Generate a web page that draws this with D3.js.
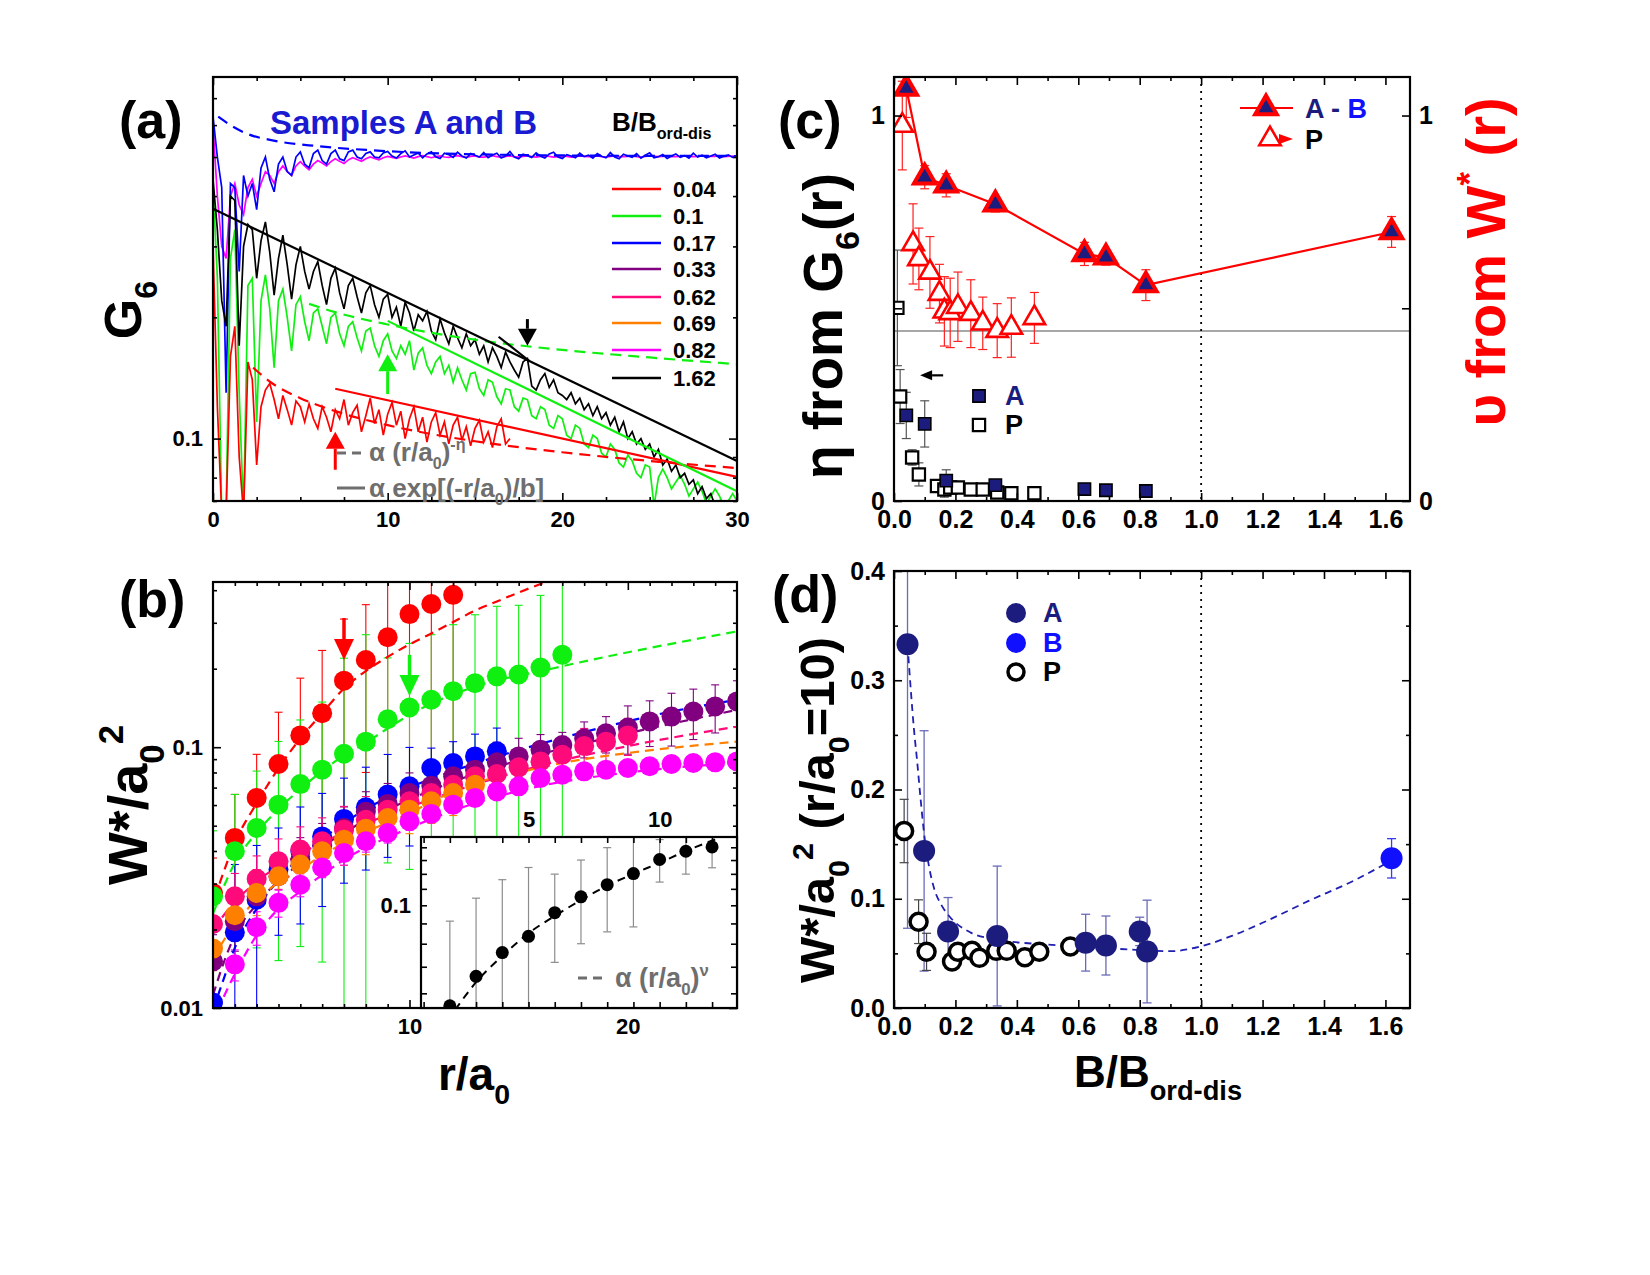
<!DOCTYPE html>
<html>
<head>
<meta charset="utf-8">
<script src="https://cdn.jsdelivr.net/npm/d3@7/dist/d3.min.js"></script>
<style>
  body { margin: 0; background: #fff; }
  svg text { font-family: "Liberation Sans", Arial, sans-serif; font-weight: bold; }
</style>
</head>
<body>
<svg id="fig" width="1650" height="1275"></svg>
<script>
// ---------- panel (a): G6(r), sampled every 0.25 a0 ----------
const G6_DR = 0.25
const G6_004 = [0.3, 0.12, 0.065, 0.065, 0.16, 0.19, 0.09, 0.065, 0.155, 0.14,
  0.086, 0.12, 0.132, 0.137, 0.125, 0.112, 0.128, 0.118, 0.108, 0.124,
  0.12, 0.11, 0.122, 0.112, 0.106, 0.12, 0.113, 0.104, 0.118, 0.112,
  0.125, 0.108, 0.116, 0.121, 0.104, 0.114, 0.126, 0.109, 0.118, 0.102,
  0.115, 0.123, 0.108, 0.117, 0.1, 0.112, 0.12, 0.104, 0.113, 0.098,
  0.11, 0.116, 0.102, 0.11, 0.097, 0.108, 0.113, 0.099, 0.107, 0.096,
  0.106, 0.111, 0.098, 0.104, 0.095, 0.107, 0.112, 0.097, 0.1]
const G6_01 = [0.43, 0.25, 0.065, 0.065, 0.28, 0.33, 0.13, 0.065, 0.24, 0.25,
  0.11, 0.22, 0.255, 0.21, 0.15, 0.22, 0.235, 0.2, 0.165, 0.215,
  0.225, 0.195, 0.175, 0.205, 0.21, 0.19, 0.172, 0.2, 0.205, 0.182,
  0.17, 0.19, 0.195, 0.178, 0.165, 0.185, 0.188, 0.17, 0.16, 0.175,
  0.182, 0.165, 0.158, 0.17, 0.162, 0.175, 0.148, 0.163, 0.168, 0.152,
  0.145, 0.155, 0.16, 0.145, 0.152, 0.138, 0.15, 0.14, 0.132, 0.145,
  0.146, 0.133, 0.128, 0.14, 0.138, 0.127, 0.122, 0.133, 0.132, 0.12,
  0.117, 0.126, 0.125, 0.114, 0.112, 0.12, 0.118, 0.108, 0.106, 0.114,
  0.112, 0.102, 0.1, 0.108, 0.106, 0.097, 0.095, 0.102, 0.1, 0.092,
  0.09, 0.097, 0.094, 0.087, 0.085, 0.091, 0.088, 0.082, 0.08, 0.086,
  0.085, 0.068, 0.08, 0.084, 0.08, 0.075, 0.078, 0.081, 0.077, 0.072,
  0.075, 0.078, 0.074, 0.069, 0.072, 0.075, 0.072, 0.068, 0.07, 0.073, 0.07]
const G6_017 = [0.63, 0.5, 0.42, 0.13, 0.43, 0.42, 0.26, 0.45, 0.4, 0.43,
  0.37, 0.47, 0.5, 0.44, 0.41, 0.48, 0.5, 0.46, 0.45, 0.5,
  0.515, 0.48, 0.47, 0.51, 0.52, 0.49, 0.48, 0.51, 0.52, 0.495,
  0.49, 0.515, 0.52, 0.5, 0.495, 0.51, 0.515, 0.5,
  0.498, 0.512, 0.516, 0.503, 0.497, 0.51, 0.518, 0.5, 0.506, 0.512,
  0.498, 0.509, 0.515, 0.501, 0.496, 0.511, 0.507, 0.499, 0.514, 0.503,
  0.497, 0.51, 0.505, 0.5, 0.513, 0.498, 0.506, 0.511, 0.497, 0.503,
  0.516, 0.5, 0.495, 0.508, 0.504, 0.499, 0.512, 0.502, 0.497, 0.509,
  0.514, 0.5, 0.496, 0.507, 0.503, 0.498, 0.511, 0.501, 0.505, 0.497,
  0.51, 0.502, 0.498, 0.513, 0.5, 0.495, 0.508, 0.503, 0.499, 0.51,
  0.497, 0.505, 0.512, 0.498, 0.501, 0.507, 0.496, 0.503, 0.509, 0.499,
  0.504, 0.497, 0.511, 0.5, 0.505, 0.498, 0.503, 0.508, 0.497, 0.502,
  0.506, 0.499, 0.503]
const G6_082 = [0.6, 0.4, 0.3, 0.28, 0.4, 0.43, 0.38, 0.36, 0.42, 0.44,
  0.4, 0.43, 0.46, 0.45, 0.43, 0.46, 0.475, 0.46, 0.45, 0.475,
  0.487, 0.475, 0.465, 0.48, 0.49, 0.483, 0.475, 0.487, 0.495, 0.488,
  0.482, 0.492, 0.498, 0.493, 0.488, 0.495, 0.5, 0.496, 0.492, 0.498,
  0.502, 0.499, 0.496, 0.5, 0.503, 0.5, 0.497, 0.501, 0.504, 0.501,
  0.498, 0.501, 0.503, 0.5, 0.499, 0.502, 0.504, 0.501, 0.499, 0.502,
  0.503, 0.5, 0.5, 0.502, 0.504, 0.501, 0.5, 0.502, 0.503, 0.501,
  0.5, 0.502, 0.503, 0.501, 0.5, 0.502, 0.503, 0.502, 0.5, 0.501,
  0.503, 0.502, 0.5, 0.501, 0.503, 0.502, 0.501, 0.502, 0.503, 0.501,
  0.5, 0.502, 0.503, 0.501, 0.501, 0.502, 0.503, 0.501, 0.5, 0.502,
  0.503, 0.502, 0.501, 0.502, 0.503, 0.501, 0.501, 0.502, 0.503, 0.502,
  0.501, 0.502, 0.503, 0.501, 0.502, 0.502, 0.503, 0.501, 0.502, 0.503, 0.502]
const G6_162 = [0.44, 0.33, 0.22, 0.19, 0.4, 0.39, 0.17, 0.3, 0.34, 0.33,
  0.25, 0.31, 0.345, 0.29, 0.227, 0.28, 0.32, 0.27, 0.222, 0.27,
  0.3, 0.26, 0.235, 0.26, 0.275, 0.24, 0.215, 0.25, 0.265, 0.23,
  0.21, 0.24, 0.25, 0.225, 0.205, 0.23, 0.24, 0.215, 0.2, 0.222,
  0.228, 0.2, 0.212, 0.19, 0.218, 0.205, 0.185, 0.203, 0.196, 0.207,
  0.185, 0.176, 0.198, 0.183, 0.172, 0.19, 0.178, 0.168, 0.182, 0.17,
  0.176, 0.162, 0.17, 0.155, 0.168, 0.16, 0.15, 0.164, 0.155, 0.148,
  0.142, 0.155, 0.158, 0.135, 0.132, 0.14, 0.145, 0.134, 0.14, 0.13,
  0.128, 0.125, 0.13, 0.122, 0.126, 0.118, 0.122, 0.114, 0.12, 0.112,
  0.116, 0.108, 0.113, 0.104, 0.11, 0.1, 0.104, 0.097, 0.1, 0.094,
  0.097, 0.09, 0.094, 0.086, 0.089, 0.083, 0.086, 0.08, 0.082, 0.077,
  0.079, 0.073, 0.076, 0.071, 0.073, 0.068, 0.07, 0.066, 0.068, 0.064, 0.066]

// fits: [r, G6]
const FIT_POW_RED = [[2.3, 0.15], [3.3, 0.138], [5, 0.126], [7, 0.117], [10, 0.108], [15, 0.0985], [20, 0.0925], [25, 0.088], [30, 0.0845]]
const FIT_POW_GREEN = [[5.5, 0.216], [7, 0.206], [10, 0.192], [15, 0.176], [20, 0.166], [25, 0.159], [30, 0.153]]
const FIT_POW_BLUE = [[0.3, 0.63], [1, 0.6], [2, 0.57], [3.4, 0.55], [6, 0.532], [9, 0.52], [12, 0.512], [16, 0.507], [22, 0.504], [30, 0.503]]
const FIT_EXP_RED = [[7, 0.133], [30, 0.0803]]
const FIT_EXP_GREEN = [[10, 0.196], [30, 0.074]]
const FIT_EXP_BLACK = [[0, 0.372], [30, 0.088]]
const FIT_CROSS_BLACK = [[16.35, 0.179], [18.1, 0.156]]
const ARROWS_A = [[7, 0.0837, 0.104, 0], [10, 0.129, 0.162, 1], [18, 0.198, 0.17, 7]]

const B_LABELS = ["0.04", "0.1", "0.17", "0.33", "0.62", "0.69", "0.82", "1.62"]
const B_COLORS = ["#ff0000", "#10f010", "#0000ff", "#800080", "#ff0a7a", "#ff8000", "#ff00ff", "#000000"]

// ---------- panel (b): W*/a0^2 vs r/a0 ----------
const W_R = [1, 2, 3, 4, 5, 6, 7, 8, 9, 10, 11, 12, 13, 14, 15, 16, 17, 18, 19, 20, 21, 22, 23, 24, 25]
const W_RED = [0.0276, 0.0449, 0.0639, 0.0862, 0.111, 0.135, 0.18, 0.216, 0.264, 0.324, 0.354, 0.384]
const W_RED_ERR = [0.01, 0.021, 0.03, 0.05, 0.073, 0.1, 0.13, 0.136, 0.2, 0.25, 0.3, 0.3]
const W_GREEN = [0.0268, 0.0399, 0.049, 0.0602, 0.0722, 0.082, 0.0944, 0.105, 0.128, 0.142, 0.152, 0.164, 0.176, 0.187, 0.19, 0.202, 0.226]
const W_GREEN_ERR = [0.021, 0.026, 0.032, 0.045, 0.055, 0.067, 0.125, 0.165, 0.092, 0.108, 0.118, 0.131, 0.146, 0.16, 0.16, 0.18, 0.25]
const W_BLUE = [0.0105, 0.0195, 0.026, 0.034, 0.04, 0.0455, 0.0531, 0.0588, 0.0658, 0.0708, 0.0832, 0.087, 0.0922, 0.0964]
const W_BLUE_ERR = [0.005, 0.016, 0.016, 0.015, 0.019, 0.021, 0.023, 0.025, 0.028, 0.029, 0.016, 0.018, 0.02, 0.022]
const W_PURPLE = [0.0151, 0.0215, 0.0268, 0.032, 0.037, 0.042, 0.049, 0.0565, 0.0606, 0.0667, 0.0712, 0.0773, 0.082, 0.0875, 0.0922, 0.0978, 0.102, 0.108, 0.113, 0.119, 0.1256, 0.131, 0.137, 0.1434, 0.1498]
const W_PURPLE_ERR = [0.004, 0.005, 0.006, 0.007, 0.008, 0.009, 0.01, 0.011, 0.012, 0.013, 0.014, 0.015, 0.016, 0.017, 0.016, 0.014, 0.012, 0.017, 0.018, 0.025, 0.025, 0.03, 0.03, 0.03, 0.03]
const W_PINK = [0.021, 0.0268, 0.0313, 0.0365, 0.0405, 0.0436, 0.0483, 0.0527, 0.0576, 0.062, 0.0667, 0.0718, 0.0773, 0.0789, 0.0837, 0.0882, 0.0936, 0.101, 0.105, 0.111]
const W_PINK_ERR = [0.005, 0.006, 0.007, 0.008, 0.009, 0.01, 0.011, 0.012, 0.012, 0.013, 0.013, 0.014, 0.014, 0.015, 0.015, 0.016, 0.016, 0.017, 0.017, 0.018]
const W_ORANGE = [0.0169, 0.0227, 0.0276, 0.032, 0.0355, 0.0399, 0.0442, 0.0487, 0.0535, 0.0576, 0.062, 0.0667, 0.0718]
const W_ORANGE_ERR = [0.003, 0.004, 0.005, 0.006, 0.007, 0.008, 0.009, 0.01, 0.01, 0.011, 0.011, 0.012, 0.012]
const W_MAGENTA = [0.0147, 0.0204, 0.0253, 0.0297, 0.0346, 0.0393, 0.0436, 0.0469, 0.052, 0.0555, 0.0602, 0.0639, 0.0677, 0.0708, 0.0762, 0.0784, 0.0808, 0.082, 0.0832, 0.0845, 0.0862, 0.087, 0.0875, 0.0882]
const W_MAGENTA_ERR = [0.002, 0.003, 0.003, 0.003, 0.003, 0.004, 0.004, 0.004, 0.004, 0.004, 0.004, 0.004, 0.004, 0.004, 0.004, 0.004, 0.004, 0.004, 0.004, 0.004, 0.004, 0.004, 0.004, 0.004]

const FIT_W_RED = [[1.3, 0.03], [2, 0.043], [3, 0.061], [4, 0.083], [5, 0.108], [6, 0.135], [7, 0.168], [8, 0.196], [9, 0.222], [10, 0.248], [11, 0.273], [12, 0.302], [13, 0.334], [14, 0.362], [15, 0.392], [16.5, 0.438]]
const FIT_W_GREEN = [[1, 0.023], [2, 0.036], [3, 0.047], [4, 0.058], [5, 0.069], [6, 0.081], [7, 0.093], [8, 0.104], [9, 0.118], [10, 0.133], [12.75, 0.168], [16.5, 0.2], [25, 0.278]]
const FIT_W_BLUE = [[1, 0.0098], [1.5, 0.013], [2, 0.017], [3, 0.024], [4, 0.031], [5, 0.038], [6, 0.0445], [7, 0.051], [8, 0.058], [9, 0.064], [10, 0.07], [12, 0.081], [14, 0.092], [16, 0.103], [19, 0.12], [22, 0.137], [25, 0.152]]
const FIT_W_PURPLE = [[1, 0.0112], [1.5, 0.015], [2, 0.019], [3, 0.025], [5, 0.036], [7, 0.047], [10, 0.063], [13, 0.079], [16, 0.094], [20, 0.113], [25, 0.139]]
const FIT_W_PINK = [[1, 0.02], [2, 0.0255], [3, 0.0305], [5, 0.039], [7, 0.047], [10, 0.059], [13, 0.072], [16, 0.085], [20, 0.101], [25, 0.12]]
const FIT_W_ORANGE = [[1, 0.0155], [2, 0.021], [3, 0.026], [5, 0.034], [7, 0.043], [10, 0.056], [12.75, 0.0718], [15, 0.08], [17.3, 0.088], [20, 0.095], [25, 0.105]]
const FIT_W_MAGENTA = [[1.2, 0.0098], [2, 0.0135], [3, 0.019], [4, 0.024], [5, 0.028], [7, 0.037], [10, 0.049], [13, 0.061], [16, 0.071], [20, 0.08], [25, 0.087]]
const ARROWS_B = [[7, 0.313, 0.216, 0], [10, 0.226, 0.157, 1]]

// inset of (b): B/Bord-dis = 1.62
const IN_R = [2, 3, 4, 5, 6, 7, 8, 9, 10, 11, 12]
const IN_W = [0.0558, 0.0662, 0.076, 0.0835, 0.0958, 0.105, 0.1127, 0.1202, 0.1304, 0.1368, 0.1403]
const IN_ERR = [0.0354, 0.038, 0.04, 0.041, 0.024, 0.025, 0.027, 0.032, 0.016, 0.017, 0.016]
const IN_FIT = [[2.2, 0.0545], [3, 0.064], [4, 0.0745], [5, 0.085], [6, 0.094], [7, 0.103], [8, 0.112], [9, 0.12], [10, 0.128], [11, 0.137], [12.3, 0.148]]

// ---------- panel (c): eta and nu vs B/Bord-dis ----------
const C_B_AB = [0.04, 0.1, 0.17, 0.33, 0.62, 0.69, 0.82, 1.62]
const C_NU_AB = [1.07, 0.84, 0.819, 0.77, 0.641, 0.632, 0.56, 0.698]
const C_NU_AB_ERR = [0.075, 0.03, 0.03, 0.02, 0.03, 0.02, 0.04, 0.04]
const C_B_P = [0.027, 0.062, 0.081, 0.117, 0.148, 0.164, 0.183, 0.208, 0.25, 0.289, 0.336, 0.382, 0.457]
const C_NU_P = [0.974, 0.667, 0.628, 0.593, 0.538, 0.492, 0.488, 0.504, 0.486, 0.461, 0.442, 0.45, 0.475]
const C_NU_P_ERR = [0.115, 0.104, 0.08, 0.093, 0.076, 0.09, 0.09, 0.09, 0.088, 0.068, 0.07, 0.077, 0.066]
const C_B_A = [0.04, 0.1, 0.17, 0.33, 0.62, 0.69, 0.82]
const C_ETA_A = [0.222, 0.2, 0.053, 0.041, 0.031, 0.028, 0.026]
const C_ETA_A_ERR = [0.06, 0.06, 0.028, 0.01, 0.008, 0.008, 0.008]
const C_B_PSQ = [0.011, 0.02, 0.059, 0.081, 0.14, 0.164, 0.183, 0.208, 0.25, 0.289, 0.336, 0.382, 0.457]
const C_ETA_P = [0.501, 0.271, 0.113, 0.069, 0.039, 0.03, 0.035, 0.035, 0.03, 0.03, 0.022, 0.02, 0.02]
const C_ETA_P_ERR = [0.15, 0.07, 0.02, 0.03, 0.01, 0.02, 0.015, 0.01, 0.01, 0.01, 0.01, 0.01, 0.01]
const C_HLINE = 0.441

// ---------- panel (d): W*/a0^2 at r/a0 = 10 ----------
const D_B_A = [0.044, 0.098, 0.176, 0.336, 0.624, 0.69, 0.8, 0.824]
const D_W_A = [0.333, 0.1438, 0.0701, 0.0659, 0.0598, 0.0572, 0.0701, 0.0517]
const D_W_A_ERR = [0.26, 0.11, 0.031, 0.064, 0.026, 0.027, 0.013, 0.047]
const D_B_B = [1.62]
const D_W_B = [0.137]
const D_W_B_ERR = [0.018]
const D_B_P = [0.033, 0.08, 0.106, 0.189, 0.208, 0.254, 0.278, 0.333, 0.367, 0.426, 0.473, 0.574]
const D_W_P = [0.162, 0.079, 0.0514, 0.0426, 0.0514, 0.0523, 0.0459, 0.0523, 0.0523, 0.0465, 0.0514, 0.0562]
const D_W_P_ERR = [0.029, 0.02, 0.017, 0.005, 0.005, 0.005, 0.005, 0.008, 0.005, 0.005, 0.005, 0.005]
const D_FIT = [[0.044, 0.333], [0.055, 0.29], [0.065, 0.255], [0.075, 0.227], [0.087, 0.19], [0.1, 0.155], [0.115, 0.128], [0.13, 0.11], [0.155, 0.094], [0.18, 0.084], [0.25, 0.069], [0.33, 0.063], [0.5, 0.058], [0.65, 0.0556], [0.8, 0.053], [0.9, 0.052], [1.0, 0.0565], [1.1, 0.066], [1.2, 0.078], [1.35, 0.098], [1.5, 0.117], [1.6, 0.132]]

const BB_MAJOR = [0, 0.2, 0.4, 0.6, 0.8, 1.0, 1.2, 1.4, 1.6]
const BB_MINOR = [0.1, 0.3, 0.5, 0.7, 0.9, 1.1, 1.3, 1.5]

// ---------- layout ----------
const PA = { x0: 213, x1: 737, y0: 77, y1: 501 }
const PB = { x0: 213, x1: 737, y0: 582, y1: 1008 }
const PI = { x0: 421, x1: 737, y0: 837, y1: 1008 }
const PC = { x0: 894, x1: 1410, y0: 77, y1: 501 }
const PD = { x0: 894, x1: 1410, y0: 571, y1: 1008 }
const NAVY = "#1c1c7e"
const BRIGHT_BLUE = "#1010ff"
const GRAY_TXT = "#6e6e6e"
const NARROW = '"Liberation Sans Narrow", "Liberation Sans", Arial, sans-serif'
const REGULAR = '"Liberation Sans", Arial, sans-serif'

const svg = d3.select("#fig")
const defs = svg.append("defs")

function clipRect(id, b) {
  defs.append("clipPath").attr("id", id)
      .append("rect")
      .attr("x", b.x0).attr("y", b.y0)
      .attr("width", b.x1 - b.x0).attr("height", b.y1 - b.y0)
}

function axisSide(g, axisFn, scale, vals, size, tr, fmt, o) {
  const ax = axisFn(scale).tickValues(vals).tickSizeInner(-size).tickSizeOuter(0)
                          .tickPadding(o.pad || 8).tickFormat(fmt)
  const a = g.append("g").attr("transform", tr).call(ax)
  a.select(".domain").remove()
  a.selectAll("line").attr("stroke", "#000").attr("stroke-width", 1.6)
  a.selectAll("text")
   .attr("fill", "#000")
   .attr("font-size", o.fs)
   .attr("font-family", o.ff)
   .attr("font-weight", "bold")
  return a
}

function drawFrame(g, b, x, y, o) {
  const none = () => ""
  const sides = [
    [d3.axisBottom, x, `translate(0,${b.y1})`, o.xMaj, o.xMin, o.xFmt || none],
    [d3.axisTop, x, `translate(0,${b.y0})`, o.xMaj, o.xMin, o.xTopFmt || none],
    [d3.axisLeft, y, `translate(${b.x0},0)`, o.yMaj, o.yMin, o.yFmt || none],
    [d3.axisRight, y, `translate(${b.x1},0)`, o.yMaj, o.yMin, o.yRFmt || none],
  ]
  sides.forEach(([fn, s, tr, maj, min, fmt]) => {
    if (min && min.length) axisSide(g, fn, s, min, o.minLen || 4, tr, none, o)
    axisSide(g, fn, s, maj, o.majLen || 8, tr, fmt, o)
  })
  g.append("rect")
   .attr("x", b.x0).attr("y", b.y0)
   .attr("width", b.x1 - b.x0).attr("height", b.y1 - b.y0)
   .attr("fill", "none").attr("stroke", "#000").attr("stroke-width", 2.2)
}

// text with sub/superscripts: parts = [[text, "n"|"sub"|"sup"]]
function rich(sel, parts, fs) {
  let shift = 0
  parts.forEach(([t, k]) => {
    const small = fs * 0.62
    const target = k === "sub" ? fs * 0.3 : k === "sup" ? -fs * 0.42 : 0
    sel.append("tspan")
       .attr("dy", target - shift)
       .attr("font-size", k === "n" ? fs : small)
       .text(t)
    shift = target
  })
  return sel
}

function label(g, x, y, parts, fs, opt = {}) {
  const t = g.append("text")
             .attr("text-anchor", opt.anchor || "start")
             .attr("fill", opt.color || "#000")
             .attr("font-size", fs)
  if (opt.rotate) t.attr("transform", `translate(${x},${y}) rotate(${opt.rotate})`)
  else t.attr("x", x).attr("y", y)
  return rich(t, parts, fs)
}

function arrow(g, x1, y1, x2, y2, color, headLen, headW, shaftW) {
  const len = Math.hypot(x2 - x1, y2 - y1)
  const ux = (x2 - x1) / len, uy = (y2 - y1) / len
  const bx = x2 - ux * headLen, by = y2 - uy * headLen
  g.append("line")
   .attr("x1", x1).attr("y1", y1).attr("x2", bx).attr("y2", by)
   .attr("stroke", color).attr("stroke-width", shaftW)
  g.append("path")
   .attr("d", `M${x2},${y2}L${bx - uy * headW / 2},${by + ux * headW / 2}L${bx + uy * headW / 2},${by - ux * headW / 2}Z`)
   .attr("fill", color)
}

function errorBars(g, pts, x, y, color, cap, floorPx, width) {
  const grp = g.append("g").attr("stroke", color).attr("stroke-width", width || 1.2)
  grp.selectAll("g").data(pts).join("g").each(function (d) {
    const s = d3.select(this)
    const px = x(d.x)
    const top = y(d.v + d.e)
    const lo = d.v - d.e
    const bot = lo > 0 || !floorPx ? y(lo) : floorPx
    s.append("line").attr("x1", px).attr("x2", px).attr("y1", top).attr("y2", bot)
    s.append("line").attr("x1", px - cap).attr("x2", px + cap).attr("y1", top).attr("y2", top)
    s.append("line").attr("x1", px - cap).attr("x2", px + cap).attr("y1", bot).attr("y2", bot)
  })
}

const zip = (xs, vs, es) => vs.map((v, i) => ({ x: xs[i], v: v, e: es ? es[i] : 0 }))

// ---------- (a) ----------
function panelA() {
  const g = svg.append("g")
  const x = d3.scaleLinear().domain([0, 30]).range([PA.x0, PA.x1])
  const y = d3.scaleLog().domain([0.07, 0.79]).range([PA.y1, PA.y0])
  clipRect("clipA", PA)
  const plot = g.append("g").attr("clip-path", "url(#clipA)")

  const line = d3.line().x((d, i) => x(i * G6_DR)).y(d => y(d))
  const curves = [[G6_082, 6], [G6_017, 2], [G6_01, 1], [G6_004, 0], [G6_162, 7]]
  plot.selectAll("path.g6").data(curves).join("path")
      .attr("class", "g6")
      .attr("d", d => line(d[0]))
      .attr("fill", "none")
      .attr("stroke", d => B_COLORS[d[1]])
      .attr("stroke-width", 1.7)

  const fitLine = d3.line().x(d => x(d[0])).y(d => y(d[1])).curve(d3.curveMonotoneX)
  const fits = [
    [FIT_POW_RED, 0, true], [FIT_EXP_RED, 0, false],
    [FIT_POW_GREEN, 1, true], [FIT_EXP_GREEN, 1, false],
    [FIT_POW_BLUE, 2, true], [FIT_EXP_BLACK, 7, false], [FIT_CROSS_BLACK, 7, false],
  ]
  plot.selectAll("path.fit").data(fits).join("path")
      .attr("class", "fit")
      .attr("d", d => fitLine(d[0]))
      .attr("fill", "none")
      .attr("stroke", d => B_COLORS[d[1]])
      .attr("stroke-width", 2.2)
      .attr("stroke-dasharray", d => d[2] ? "11,7" : null)

  ARROWS_A.forEach(([r, g0, g1, c]) =>
    arrow(g, x(r), y(g0), x(r), y(g1), B_COLORS[c], 17, 19, 3))

  drawFrame(g, PA, x, y, {
    xMaj: [0, 10, 20, 30], xMin: [2.5, 5, 7.5, 12.5, 15, 17.5, 22.5, 25, 27.5],
    yMaj: [0.1], yMin: [0.07, 0.08, 0.09, 0.2, 0.3, 0.4, 0.5, 0.6, 0.7],
    xFmt: d => d, yFmt: () => "0.1", fs: 22, ff: REGULAR, pad: 10,
  })

  g.append("text").attr("x", 270).attr("y", 134)
   .attr("font-size", 33).attr("fill", "#1a1ad0").text("Samples A and B")
  label(g, 612, 131, [["B/B", "n"], ["ord-dis", "sub"]], 26)

  const rowY = [189, 216, 243, 269, 297, 323, 350, 378]
  const leg = g.selectAll("g.leg").data(B_LABELS).join("g").attr("class", "leg")
  leg.append("line")
     .attr("x1", 612).attr("x2", 661)
     .attr("y1", (d, i) => rowY[i]).attr("y2", (d, i) => rowY[i])
     .attr("stroke", (d, i) => B_COLORS[i]).attr("stroke-width", 2.5)
  leg.append("text")
     .attr("x", 673).attr("y", (d, i) => rowY[i] + 8)
     .attr("font-size", 22).text(d => d)

  const gray = g.append("g")
  gray.append("line").attr("x1", 337).attr("x2", 365).attr("y1", 453).attr("y2", 453)
      .attr("stroke", GRAY_TXT).attr("stroke-width", 3).attr("stroke-dasharray", "9,6")
  label(gray, 369, 461, [["α (r/a", "n"], ["0", "sub"], [")", "n"], ["-η", "sup"]], 26, { color: GRAY_TXT })
  gray.append("line").attr("x1", 337).attr("x2", 365).attr("y1", 488).attr("y2", 488)
      .attr("stroke", GRAY_TXT).attr("stroke-width", 3)
  label(gray, 369, 497, [["α exp[(-r/a", "n"], ["0", "sub"], [")/b]", "n"]], 26, { color: GRAY_TXT })

  g.append("text").attr("x", 119).attr("y", 138).attr("font-size", 52).text("(a)")
  label(g, 141, 310, [["G", "n"], ["6", "sub"]], 52, { rotate: -90, anchor: "middle" })
}

// ---------- (b) ----------
function panelB() {
  const g = svg.append("g")
  const x = d3.scaleLinear().domain([1, 25]).range([PB.x0, PB.x1])
  const y = d3.scaleLog().domain([0.01, 0.43]).range([PB.y1, PB.y0])
  clipRect("clipB", PB)
  const plot = g.append("g").attr("clip-path", "url(#clipB)")

  const series = [
    [W_RED, W_RED_ERR, 0], [W_GREEN, W_GREEN_ERR, 1], [W_BLUE, W_BLUE_ERR, 2],
    [W_PURPLE, W_PURPLE_ERR, 3], [W_PINK, W_PINK_ERR, 4], [W_ORANGE, W_ORANGE_ERR, 5],
    [W_MAGENTA, W_MAGENTA_ERR, 6],
  ]
  const ptsOf = s => zip(s[2] === 6 ? W_R.slice(1) : W_R, s[0], s[1])
  series.forEach(s => errorBars(plot, ptsOf(s), x, y, B_COLORS[s[2]], 4, PB.y1 + 5, 1.1))

  const fitLine = d3.line().x(d => x(d[0])).y(d => y(d[1])).curve(d3.curveMonotoneX)
  const fits = [[FIT_W_RED, 0], [FIT_W_GREEN, 1], [FIT_W_BLUE, 2], [FIT_W_PURPLE, 3],
                [FIT_W_PINK, 4], [FIT_W_ORANGE, 5], [FIT_W_MAGENTA, 6]]
  plot.selectAll("path.fit").data(fits).join("path")
      .attr("class", "fit")
      .attr("d", d => fitLine(d[0]))
      .attr("fill", "none")
      .attr("stroke", d => B_COLORS[d[1]])
      .attr("stroke-width", 2.2)
      .attr("stroke-dasharray", "9,6")

  series.forEach(s => {
    plot.append("g").selectAll("circle").data(ptsOf(s)).join("circle")
        .attr("cx", d => x(d.x)).attr("cy", d => y(d.v)).attr("r", 10)
        .attr("fill", B_COLORS[s[2]])
  })

  ARROWS_B.forEach(([r, w0, w1, c]) =>
    arrow(g, x(r), y(w0), x(r), y(w1), B_COLORS[c], 21, 20, 3.5))

  drawFrame(g, PB, x, y, {
    xMaj: [10, 20], xMin: [2, 3, 4, 5, 6, 7, 8, 9, 11, 12, 13, 14, 15, 16, 17, 18, 19, 21, 22, 23, 24],
    yMaj: [0.01, 0.1], yMin: [0.02, 0.03, 0.04, 0.05, 0.06, 0.07, 0.08, 0.09, 0.2, 0.3, 0.4],
    xFmt: d => d, yFmt: d => (d === 0.1 ? "0.1" : "0.01"), fs: 22, ff: REGULAR, pad: 10,
  })

  // inset
  const xi = d3.scaleLinear().domain([0.9, 12.95]).range([PI.x0, PI.x1])
  const yi = d3.scaleLog().domain([0.0551, 0.1486]).range([PI.y1, PI.y0])
  const ig = g.append("g")
  ig.append("rect").attr("x", PI.x0).attr("y", PI.y0)
    .attr("width", PI.x1 - PI.x0).attr("height", PI.y1 - PI.y0).attr("fill", "#fff")
  clipRect("clipI", PI)
  const iplot = ig.append("g").attr("clip-path", "url(#clipI)")
  const ipts = zip(IN_R, IN_W, IN_ERR)
  errorBars(iplot, ipts, xi, yi, "#8c8c8c", 4, PI.y1 + 5, 1.2)
  iplot.append("path")
       .attr("d", d3.line().x(d => xi(d[0])).y(d => yi(d[1])).curve(d3.curveMonotoneX)(IN_FIT))
       .attr("fill", "none").attr("stroke", "#000").attr("stroke-width", 2).attr("stroke-dasharray", "8,6")
  iplot.selectAll("circle").data(ipts).join("circle")
       .attr("cx", d => xi(d.x)).attr("cy", d => yi(d.v)).attr("r", 6.5).attr("fill", "#000")
  drawFrame(ig, PI, xi, yi, {
    xMaj: [1, 2, 3, 4, 5, 6, 7, 8, 9, 10, 11, 12], xMin: [],
    yMaj: [0.06, 0.07, 0.08, 0.09, 0.1, 0.11, 0.12, 0.13, 0.14], yMin: [],
    xTopFmt: d => (d === 5 || d === 10 ? d : ""), yFmt: d => (d === 0.1 ? "0.1" : ""),
    fs: 22, ff: REGULAR, pad: 10, majLen: 6,
  })
  ig.append("line").attr("x1", 578).attr("x2", 606).attr("y1", 978).attr("y2", 978)
    .attr("stroke", GRAY_TXT).attr("stroke-width", 3).attr("stroke-dasharray", "9,6")
  label(ig, 615, 987, [["α (r/a", "n"], ["0", "sub"], [")", "n"], ["ν", "sup"]], 27, { color: GRAY_TXT })

  g.append("text").attr("x", 119).attr("y", 617).attr("font-size", 52).text("(b)")
  label(g, 147, 805, [["W*/a", "n"], ["0", "sub"], ["2", "sup"]], 56, { rotate: -90, anchor: "middle" })
  label(g, 474, 1090, [["r/a", "n"], ["0", "sub"]], 46, { anchor: "middle" })
}

// ---------- (c) ----------
function panelC() {
  const g = svg.append("g")
  const x = d3.scaleLinear().domain([0, 1.68]).range([PC.x0, PC.x1])
  const y = d3.scaleLinear().domain([0, 1.1]).range([PC.y1, PC.y0])
  clipRect("clipC", PC)
  const plot = g.append("g").attr("clip-path", "url(#clipC)")

  plot.append("line").attr("x1", PC.x0).attr("x2", PC.x1).attr("y1", y(C_HLINE)).attr("y2", y(C_HLINE))
      .attr("stroke", "#8a8a8a").attr("stroke-width", 1.5)
  plot.append("line").attr("x1", x(1)).attr("x2", x(1)).attr("y1", PC.y0).attr("y2", PC.y1)
      .attr("stroke", "#000").attr("stroke-width", 1.8).attr("stroke-dasharray", "2,5")

  const ab = zip(C_B_AB, C_NU_AB, C_NU_AB_ERR)
  const pn = zip(C_B_P, C_NU_P, C_NU_P_ERR)
  const sa = zip(C_B_A, C_ETA_A, C_ETA_A_ERR)
  const sp = zip(C_B_PSQ, C_ETA_P, C_ETA_P_ERR)
  errorBars(plot, pn, x, y, "#ff2020", 4.5, null, 1.2)
  errorBars(plot, ab, x, y, "#ff2020", 4.5, null, 1.2)
  errorBars(plot, sp, x, y, "#555", 4.5, null, 1.2)
  errorBars(plot, sa, x, y, "#555", 4.5, null, 1.2)

  plot.append("path")
      .attr("d", d3.line().x(d => x(d.x)).y(d => y(d.v))(ab))
      .attr("fill", "none").attr("stroke", "#ff0000").attr("stroke-width", 2.2)

  const tri = d3.symbol().type(d3.symbolTriangle).size(200)
  const sq = d3.symbol().type(d3.symbolSquare).size(150)
  plot.append("g").selectAll("path").data(pn).join("path")
      .attr("d", tri).attr("transform", d => `translate(${x(d.x)},${y(d.v)})`)
      .attr("fill", "#fff").attr("stroke", "#ff0000").attr("stroke-width", 2.6)
  plot.append("g").selectAll("path").data(ab).join("path")
      .attr("d", tri).attr("transform", d => `translate(${x(d.x)},${y(d.v)})`)
      .attr("fill", NAVY).attr("stroke", "#ff0000").attr("stroke-width", 4)
  plot.append("g").selectAll("path").data(sp).join("path")
      .attr("d", sq).attr("transform", d => `translate(${x(d.x)},${y(d.v)})`)
      .attr("fill", "#fff").attr("stroke", "#000").attr("stroke-width", 2.2)
  plot.append("g").selectAll("path").data(sa).join("path")
      .attr("d", sq).attr("transform", d => `translate(${x(d.x)},${y(d.v)})`)
      .attr("fill", NAVY).attr("stroke", "#000").attr("stroke-width", 1.6)

  arrow(g, x(0.16), y(0.326), x(0.085), y(0.326), "#000", 12, 10, 2.2)

  drawFrame(g, PC, x, y, {
    xMaj: BB_MAJOR, xMin: BB_MINOR, yMaj: [0, 0.5, 1], yMin: [],
    xFmt: d3.format(".1f"),
    yFmt: d => (d === 0 ? "0" : d === 1 ? "1" : ""),
    yRFmt: d => (d === 0 ? "0" : d === 1 ? "1" : ""),
    fs: 25, ff: NARROW, pad: 9,
  })

  // legends
  g.append("line").attr("x1", 1240).attr("x2", 1293).attr("y1", 108).attr("y2", 108)
   .attr("stroke", "#ff0000").attr("stroke-width", 2.2)
  g.append("path").attr("d", tri).attr("transform", "translate(1266,108)")
   .attr("fill", NAVY).attr("stroke", "#ff0000").attr("stroke-width", 4)
  const tAB = g.append("text").attr("x", 1305).attr("y", 118).attr("font-size", 27)
  tAB.append("tspan").attr("fill", NAVY).text("A - ")
  tAB.append("tspan").attr("fill", BRIGHT_BLUE).text("B")
  g.append("path").attr("d", tri).attr("transform", "translate(1270,139)")
   .attr("fill", "#fff").attr("stroke", "#ff0000").attr("stroke-width", 2.6)
  g.append("path").attr("d", "M1279,134L1293,139L1279,144Z").attr("fill", "#ff0000")
  g.append("text").attr("x", 1305).attr("y", 149).attr("font-size", 27).text("P")

  g.append("path").attr("d", sq).attr("transform", "translate(979,396)")
   .attr("fill", NAVY).attr("stroke", "#000").attr("stroke-width", 1.6)
  g.append("text").attr("x", 1005).attr("y", 405).attr("font-size", 27).attr("fill", NAVY).text("A")
  g.append("path").attr("d", sq).attr("transform", "translate(979,425)")
   .attr("fill", "#fff").attr("stroke", "#000").attr("stroke-width", 2.2)
  g.append("text").attr("x", 1005).attr("y", 434).attr("font-size", 27).text("P")

  g.append("text").attr("x", 778).attr("y", 138).attr("font-size", 52).text("(c)")
  label(g, 842, 326, [["η from G", "n"], ["6", "sub"], ["(r)", "n"]], 55, { rotate: -90, anchor: "middle" })
  label(g, 1505, 262, [["υ from W", "n"], ["*", "sup"], [" (r)", "n"]], 56,
        { rotate: -90, anchor: "middle", color: "#ff0000" })
}

// ---------- (d) ----------
function panelD() {
  const g = svg.append("g")
  const x = d3.scaleLinear().domain([0, 1.68]).range([PD.x0, PD.x1])
  const y = d3.scaleLinear().domain([0, 0.4]).range([PD.y1, PD.y0])
  clipRect("clipD", PD)
  const plot = g.append("g").attr("clip-path", "url(#clipD)")

  plot.append("line").attr("x1", x(1)).attr("x2", x(1)).attr("y1", PD.y0).attr("y2", PD.y1)
      .attr("stroke", "#000").attr("stroke-width", 1.8).attr("stroke-dasharray", "2,5")

  const a = zip(D_B_A, D_W_A, D_W_A_ERR)
  const b = zip(D_B_B, D_W_B, D_W_B_ERR)
  const p = zip(D_B_P, D_W_P, D_W_P_ERR)
  errorBars(plot, a, x, y, "#6a6ab8", 4.5, null, 1.3)
  errorBars(plot, b, x, y, "#3a3aee", 4.5, null, 1.3)
  errorBars(plot, p, x, y, "#444", 4.5, null, 1.2)

  plot.append("path")
      .attr("d", d3.line().x(d => x(d[0])).y(d => y(d[1])).curve(d3.curveMonotoneX)(D_FIT))
      .attr("fill", "none").attr("stroke", "#1f1fb0").attr("stroke-width", 1.8)
      .attr("stroke-dasharray", "7,5")

  plot.append("g").selectAll("circle").data(p).join("circle")
      .attr("cx", d => x(d.x)).attr("cy", d => y(d.v)).attr("r", 8.5)
      .attr("fill", "#fff").attr("stroke", "#000").attr("stroke-width", 3.5)
  plot.append("g").selectAll("circle").data(a).join("circle")
      .attr("cx", d => x(d.x)).attr("cy", d => y(d.v)).attr("r", 11).attr("fill", NAVY)
  plot.append("g").selectAll("circle").data(b).join("circle")
      .attr("cx", d => x(d.x)).attr("cy", d => y(d.v)).attr("r", 11).attr("fill", BRIGHT_BLUE)

  drawFrame(g, PD, x, y, {
    xMaj: BB_MAJOR, xMin: BB_MINOR,
    yMaj: [0, 0.1, 0.2, 0.3, 0.4], yMin: [0.05, 0.15, 0.25, 0.35],
    xFmt: d3.format(".1f"), yFmt: d3.format(".1f"),
    fs: 25, ff: NARROW, pad: 9,
  })

  const legY = [613, 643, 672]
  g.append("circle").attr("cx", 1016).attr("cy", legY[0]).attr("r", 10).attr("fill", NAVY)
  g.append("circle").attr("cx", 1016).attr("cy", legY[1]).attr("r", 10).attr("fill", BRIGHT_BLUE)
  g.append("circle").attr("cx", 1016).attr("cy", legY[2]).attr("r", 8)
   .attr("fill", "#fff").attr("stroke", "#000").attr("stroke-width", 3.5)
  g.append("text").attr("x", 1043).attr("y", legY[0] + 9).attr("font-size", 27).attr("fill", NAVY).text("A")
  g.append("text").attr("x", 1043).attr("y", legY[1] + 9).attr("font-size", 27).attr("fill", BRIGHT_BLUE).text("B")
  g.append("text").attr("x", 1043).attr("y", legY[2] + 9).attr("font-size", 27).text("P")

  g.append("text").attr("x", 772).attr("y", 612).attr("font-size", 52).text("(d)")
  label(g, 834, 810,
        [["W*/a", "n"], ["0", "sub"], ["2", "sup"], ["  (r/a", "n"], ["0", "sub"], ["=10)", "n"]],
        49, { rotate: -90, anchor: "middle" })
  label(g, 1158, 1087, [["B/B", "n"], ["ord-dis", "sub"]], 44, { anchor: "middle" })
}

panelA()
panelB()
panelC()
panelD()
</script>
</body>
</html>
